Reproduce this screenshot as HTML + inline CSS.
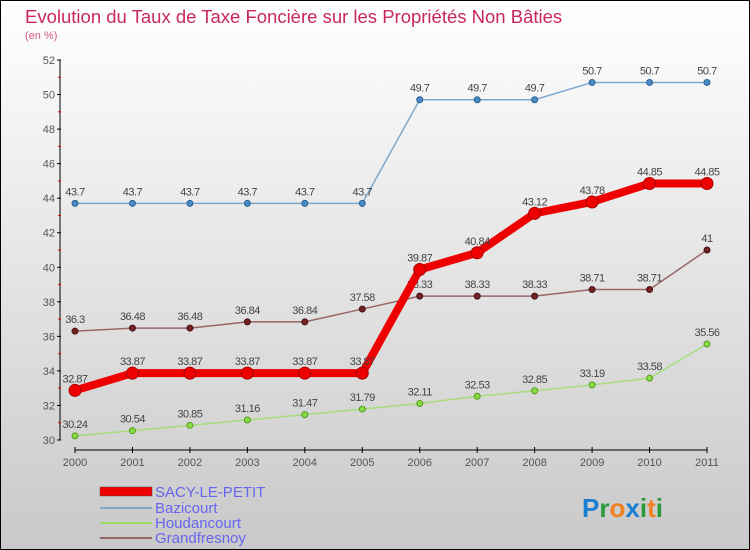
<!DOCTYPE html>
<html><head><meta charset="utf-8"><style>
body{margin:0}
#c{width:750px;height:550px;position:relative;overflow:hidden}
svg{font-family:"Liberation Sans",sans-serif}
</style></head><body>
<div id="c">
<svg id="s" width="750" height="550" xmlns="http://www.w3.org/2000/svg">
<defs><linearGradient id="bg" x1="0" y1="0" x2="0" y2="1"><stop offset="0" stop-color="#ffffff"/><stop offset="1" stop-color="#c9c9c9"/></linearGradient></defs>
<rect x="0.5" y="0.5" width="749" height="549" fill="url(#bg)" stroke="#000"/>
<text x="25" y="23" font-size="18.5" fill="#c8285a">Evolution du Taux de Taxe Foncière sur les Propriétés Non Bâties</text>
<text x="25" y="39" font-size="11" fill="#d05a80">(en %)</text>
<g id="axes"></g><g id="series"></g>
<g>
<rect x="100" y="487" width="52" height="9" fill="#e00" stroke="#555" stroke-width="0.5"/>
<text x="155" y="497" font-size="15" fill="#6666ee">SACY-LE-PETIT</text>
<line x1="100" y1="508" x2="152" y2="508" stroke="#7fa9cc" stroke-width="2"/>
<text x="155" y="513" font-size="15" fill="#6666ee">Bazicourt</text>
<line x1="100" y1="523" x2="152" y2="523" stroke="#99dd66" stroke-width="2"/>
<text x="155" y="528" font-size="15" fill="#6666ee">Houdancourt</text>
<line x1="100" y1="538" x2="152" y2="538" stroke="#996666" stroke-width="2"/>
<text x="155" y="543" font-size="15" fill="#6666ee">Grandfresnoy</text>
</g>
<g font-size="26" font-weight="bold">
<text x="582" y="517"><tspan fill="#1a7fd0">P</tspan><tspan fill="#2a9a3a">r</tspan><tspan fill="#f08020">o</tspan><tspan fill="#1a7fd0">x</tspan><tspan fill="#2a9a3a">i</tspan><tspan fill="#f08020">t</tspan><tspan fill="#2a9a3a">i</tspan></text>
</g>
</svg>
</div>
<script>
const years=["2000","2001","2002","2003","2004","2005","2006","2007","2008","2009","2010","2011"];
const yTicks=[30,32,34,36,38,40,42,44,46,48,50,52];
const sacy=[32.87,33.87,33.87,33.87,33.87,33.87,39.87,40.84,43.12,43.78,44.85,44.85];
const bazicourt=[43.7,43.7,43.7,43.7,43.7,43.7,49.7,49.7,49.7,50.7,50.7,50.7];
const houdancourt=[30.24,30.54,30.85,31.16,31.47,31.79,32.11,32.53,32.85,33.19,33.58,35.56];
const grandfresnoy=[36.3,36.48,36.48,36.84,36.84,37.58,38.33,38.33,38.33,38.71,38.71,41];
const NS="http://www.w3.org/2000/svg";
const X=i=>75+i*(707-75)/(years.length-1);
const Y=v=>440-(v-30)*(440-60)/22;
function mk(t,a,p){const e=document.createElementNS(NS,t);for(const k in a)e.setAttribute(k,a[k]);p.appendChild(e);return e;}
const ax=document.getElementById('axes');
let l=mk('line',{x1:60,y1:Y(52),x2:60,y2:Y(30),stroke:'#000'},ax);


yTicks.forEach((v,k)=>{
  mk('line',{x1:57,y1:Y(v),x2:61,y2:Y(v),stroke:'#000'},ax);
  if(k<yTicks.length-1) mk('line',{x1:58,y1:Y(v+1),x2:61,y2:Y(v+1),stroke:'#d00'},ax);
  const t=mk('text',{x:55,y:Y(v)+4,'font-size':11,fill:'#555','text-anchor':'end'},ax);t.textContent=v;
  
  
});
l=mk('line',{x1:75,y1:450,x2:707,y2:450,stroke:'#000'},ax);


years.forEach((y,i)=>{
  mk('line',{x1:X(i),y1:447,x2:X(i),y2:453,stroke:'#000'},ax);
  const t=mk('text',{x:X(i),y:466,'font-size':11,fill:'#555','text-anchor':'middle'},ax);t.textContent=y;
  
  
});
const sg=document.getElementById('series');
function series(name,data,color,w,r,dot,dotStroke){
  const g=mk('g',{},sg);
  
  
  mk('polyline',{points:data.map((v,i)=>X(i)+','+Y(v)).join(' '),fill:'none',stroke:color,'stroke-width':w,'stroke-linejoin':'round'},g);
  data.forEach((v,i)=>{
    const c=mk('circle',{cx:X(i),cy:Y(v),r:r,fill:dot,stroke:dotStroke,'stroke-width':1},g);
    
    
    const t=mk('text',{x:X(i),y:Y(v)-8,'font-size':11,fill:'#444','text-anchor':'middle','letter-spacing':'-0.5'},g);t.textContent=v;
    
    
  });
}
series('bazicourt',bazicourt,'#7fa9cc',1.5,3,'#4a8cc8','#2a6090');
series('houdancourt',houdancourt,'#a6dd7a',1.5,3,'#88dd44','#559922');
series('grandfresnoy',grandfresnoy,'#996666',1.5,3,'#772222','#441111');
series('sacy',sacy,'#ee0000',8,6,'#ee0000','#aa0000');
</script>
</body></html>
